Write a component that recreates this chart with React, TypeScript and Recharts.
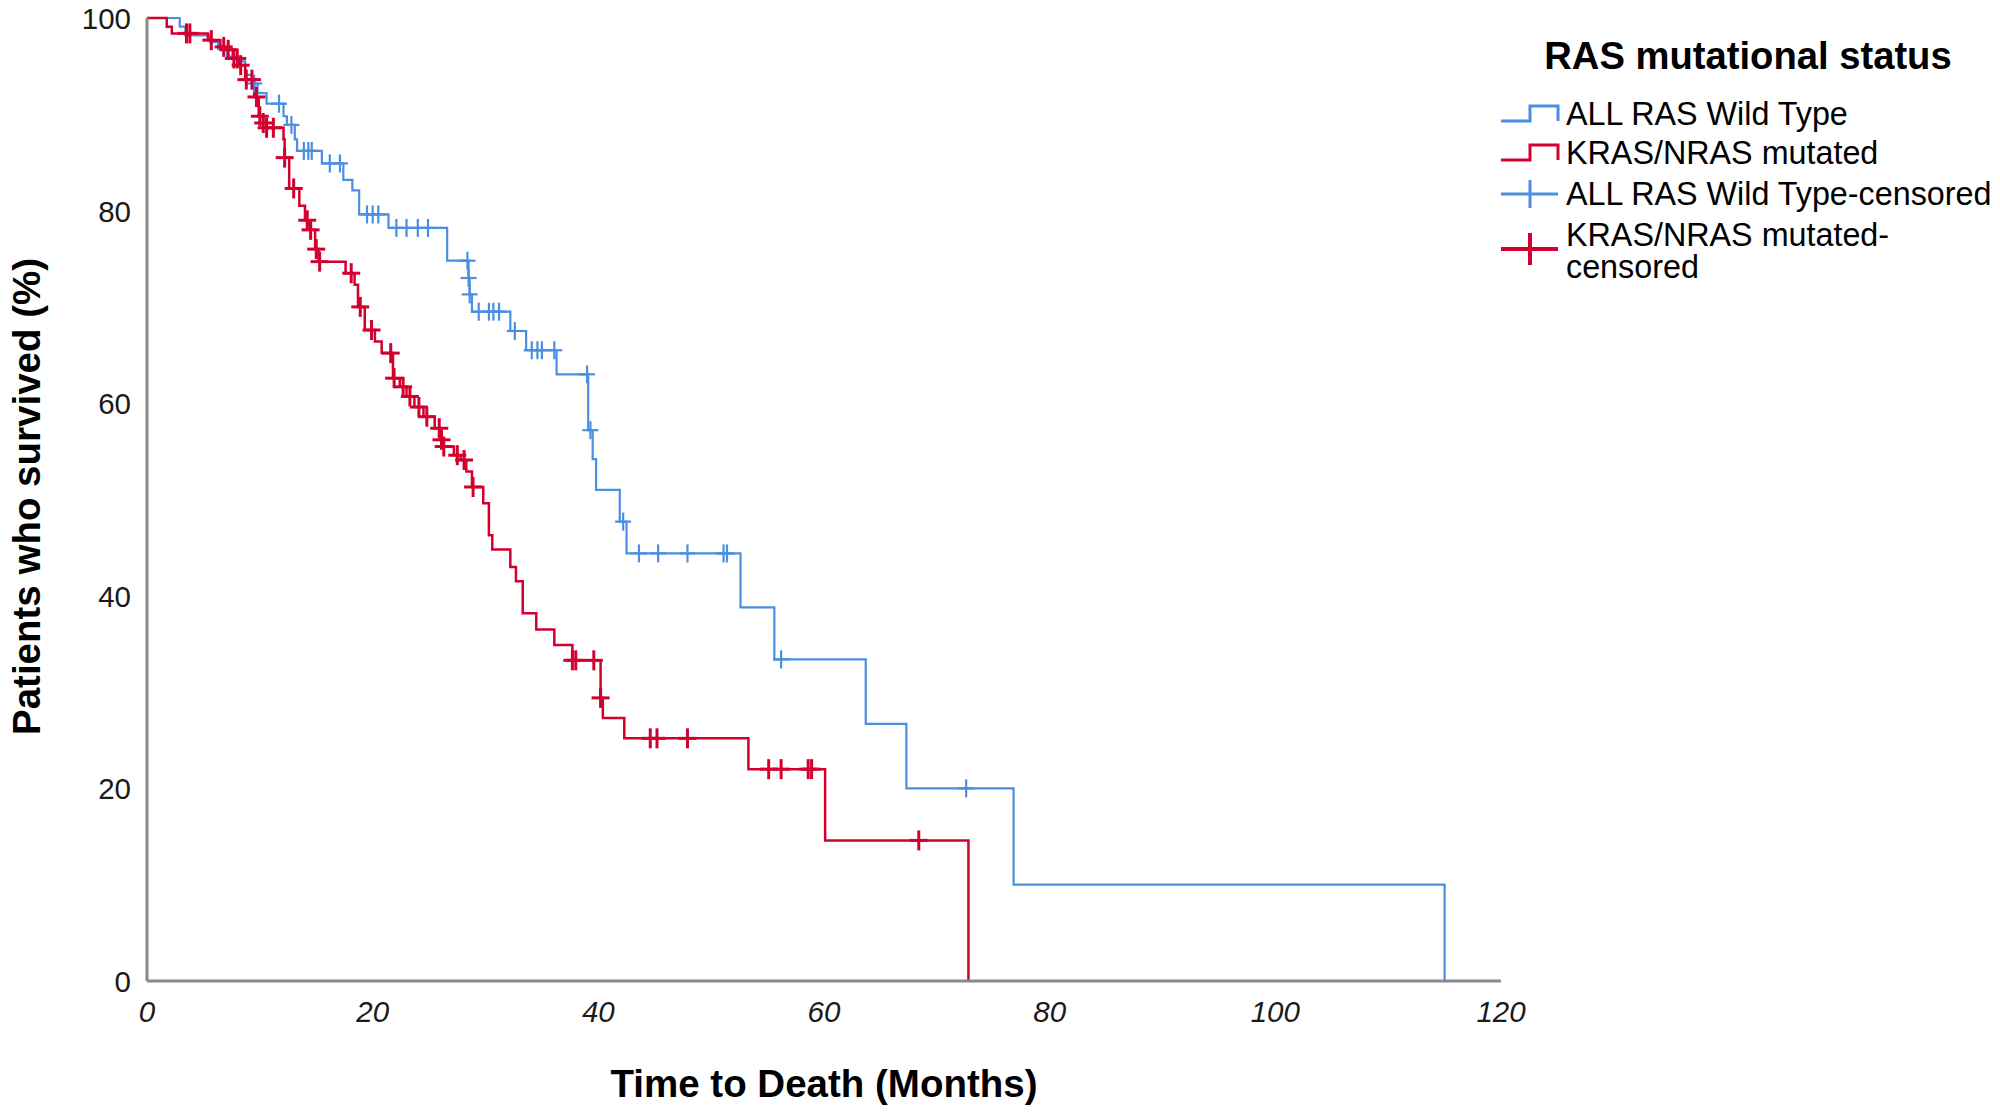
import React from "react";
import { ComposedChart, Line, Scatter, XAxis, YAxis, Label } from "recharts";

// ---- Data ----
const xTicks = [0, 20, 40, 60, 80, 100, 120];
const yTicks = [0, 20, 40, 60, 80, 100];

// ALL RAS Wild Type: step times (months) and survival (%)
const wtTime = [0, 2.9, 3.4, 5.6, 6.3, 7.1, 8.0, 8.7, 9.3, 9.8, 10.6, 12.1, 12.4, 13.1, 13.3, 15.5, 17.4, 18.2, 18.8, 21.4, 26.6, 28.5, 28.6, 28.8, 32.2, 33.6, 36.3, 39.1, 39.5, 39.8, 41.9, 42.5, 52.6, 55.6, 63.7, 67.3, 76.8, 115.0];
const wtSurv = [100, 99.1, 98.2, 97.5, 96.8, 96.0, 95.5, 94.1, 93.2, 92.2, 91.1, 89.8, 88.9, 87.4, 86.2, 84.9, 83.2, 82.1, 79.6, 78.2, 74.8, 73.0, 71.3, 69.5, 67.5, 65.5, 63.0, 57.2, 54.2, 51.0, 47.7, 44.4, 38.8, 33.4, 26.7, 20.0, 10.0, 0];

// ALL RAS Wild Type censored
const wtCensTime = [9.5, 11.7, 12.8, 13.9, 14.3, 14.6, 16.2, 17.1, 19.5, 20.0, 20.5, 22.1, 23.0, 24.0, 24.9, 28.4, 28.5, 28.6, 29.4, 30.3, 30.7, 31.2, 32.6, 34.1, 34.6, 35.0, 36.1, 39.0, 39.3, 42.2, 43.6, 45.3, 47.9, 51.1, 51.4, 56.2, 72.6];
const wtCensSurv = [93.2, 91.1, 88.9, 86.2, 86.2, 86.2, 84.9, 84.9, 79.6, 79.6, 79.6, 78.2, 78.2, 78.2, 78.2, 74.8, 73.0, 71.3, 69.5, 69.5, 69.5, 69.5, 67.5, 65.5, 65.5, 65.5, 65.5, 63.0, 57.2, 47.7, 44.4, 44.4, 44.4, 44.4, 44.4, 33.4, 20.0];

// KRAS/NRAS mutated: step times (months) and survival (%)
const mutTime = [0, 1.75, 2.2, 5.4, 6.5, 7.0, 7.6, 8.2, 8.7, 9.5, 9.9, 10.3, 10.6, 12.1, 12.2, 12.6, 13.5, 14.0, 14.4, 14.9, 15.2, 17.6, 18.4, 18.7, 19.3, 20.2, 20.8, 21.8, 22.4, 23.0, 23.7, 24.5, 25.5, 26.0, 26.2, 27.2, 27.8, 28.3, 28.8, 29.8, 30.3, 30.6, 32.2, 32.7, 33.3, 34.5, 36.1, 37.7, 40.2, 40.4, 42.3, 53.3, 60.1, 72.8];
const mutSurv = [100, 99.1, 98.4, 97.7, 97.0, 96.7, 95.8, 95.1, 93.6, 91.8, 89.8, 89.1, 88.6, 87.4, 85.5, 82.3, 80.5, 79.0, 78.0, 76.0, 74.7, 73.5, 72.3, 70.0, 67.6, 66.4, 65.2, 62.6, 61.7, 60.7, 59.6, 58.6, 57.4, 56.2, 55.5, 54.6, 54.1, 52.9, 51.3, 49.6, 46.3, 44.8, 43.0, 41.5, 38.2, 36.5, 34.9, 33.3, 29.4, 27.3, 25.2, 22.0, 14.6, 0];

// KRAS/NRAS mutated censored
const mutCensTime = [3.5, 3.8, 5.7, 6.8, 7.2, 7.7, 8.0, 8.3, 8.8, 9.3, 9.7, 10.0, 10.3, 10.6, 11.2, 12.2, 13.0, 14.2, 14.5, 15.0, 15.3, 18.1, 18.9, 19.9, 21.6, 21.9, 22.7, 23.3, 24.1, 24.8, 25.9, 26.1, 26.3, 27.5, 28.1, 28.9, 37.7, 38.0, 39.6, 40.2, 44.6, 45.2, 47.9, 55.1, 56.2, 58.6, 58.9, 68.4];
const mutCensSurv = [98.4, 98.4, 97.7, 97.0, 96.7, 95.8, 95.8, 95.1, 93.6, 93.6, 91.8, 89.8, 89.1, 88.6, 88.6, 85.5, 82.3, 79.0, 78.0, 76.0, 74.7, 73.5, 70.0, 67.6, 65.2, 62.6, 61.7, 60.7, 59.6, 58.6, 57.4, 56.2, 55.5, 54.6, 54.1, 51.3, 33.3, 33.3, 33.3, 29.4, 25.2, 25.2, 25.2, 22.0, 22.0, 22.0, 22.0, 14.6];

const legendTitle = "RAS mutational status";
const seriesNames = ["ALL RAS Wild Type", "KRAS/NRAS mutated", "ALL RAS Wild Type-censored", "KRAS/NRAS mutated-censored"];

const BLUE = "#4a8fe0";
const RED = "#d3002f";
const FONT = "'Liberation Sans', Arial, sans-serif";

const toPoints = (ts: number[], ss: number[]) => ts.map((t, i) => ({ t, s: ss[i] }));
const wtLine = toPoints(wtTime, wtSurv);
const mutLine = toPoints(mutTime, mutSurv);
const wtCens = toPoints(wtCensTime, wtCensSurv);
const mutCens = toPoints(mutCensTime, mutCensSurv);

const makeCross = (color: string, hw: number, hh: number, sw: number) => (props: any) => {
  const { cx, cy } = props;
  if (cx == null || cy == null) return <g />;
  return (
    <g>
      <line x1={cx - hw} y1={cy} x2={cx + hw} y2={cy} stroke={color} strokeWidth={sw} />
      <line x1={cx} y1={cy - hh} x2={cx} y2={cy + hh} stroke={color} strokeWidth={sw} />
    </g>
  );
};

const YTick = (props: any) => {
  const { x, y, payload } = props;
  return (
    <text x={x} y={y} dy={11} textAnchor="end" fontSize={29.5} fontFamily={FONT} fill="#1a1a1a">
      {payload.value}
    </text>
  );
};

const XTick = (props: any) => {
  const { x, y, payload } = props;
  return (
    <text x={x} y={y} dy={41} textAnchor="middle" fontSize={29.5} fontStyle="italic" fontFamily={FONT} fill="#1a1a1a">
      {payload.value}
    </text>
  );
};

const Legend = () => {
  const iconL = 1501;
  const iconM = 1530;
  const iconR = 1558;
  const textX = 1566;
  const rows = [114, 153, 194];
  const step = (cy: number, color: string) => (
    <path d={`M${iconL},${cy + 7} H${iconM} V${cy - 8} H${iconR} V${cy + 7}`} fill="none" stroke={color} strokeWidth={3} />
  );
  const plus = (cy: number, color: string, hh: number, sw: number) => (
    <g>
      <line x1={iconL} y1={cy} x2={iconR} y2={cy} stroke={color} strokeWidth={sw} />
      <line x1={iconM} y1={cy - hh} x2={iconM} y2={cy + hh} stroke={color} strokeWidth={sw} />
    </g>
  );
  return (
    <svg width={2000} height={1116} style={{ position: "absolute", left: 0, top: 0, pointerEvents: "none" }}>
      <text x={1748} y={69} textAnchor="middle" fontSize={38.2} fontWeight="bold" fontFamily={FONT} fill="#000">
        {legendTitle}
      </text>
      {step(rows[0], BLUE)}
      <text x={textX} y={rows[0] + 11} fontSize={32.3} fontFamily={FONT} fill="#000">{seriesNames[0]}</text>
      {step(rows[1], RED)}
      <text x={textX} y={rows[1] + 11} fontSize={32.3} fontFamily={FONT} fill="#000">{seriesNames[1]}</text>
      {plus(rows[2], BLUE, 14, 3)}
      <text x={textX} y={rows[2] + 11} fontSize={32.3} fontFamily={FONT} fill="#000">{seriesNames[2]}</text>
      {plus(249, RED, 16, 4)}
      <text x={textX} y={246} fontSize={32.3} fontFamily={FONT} fill="#000">KRAS/NRAS mutated-</text>
      <text x={textX} y={278} fontSize={32.3} fontFamily={FONT} fill="#000">censored</text>
    </svg>
  );
};

export default function App() {
  return (
    <div style={{ position: "absolute", left: 0, top: 0, width: 2000, height: 1116, background: "#fff", fontFamily: FONT }}>
      <ComposedChart width={2000} height={1116} margin={{ top: 18, right: 499, bottom: 0, left: 0 }}>
        <XAxis
          type="number"
          dataKey="t"
          domain={[0, 120]}
          ticks={xTicks}
          allowDuplicatedCategory={false}
          height={135}
          tickSize={0}
          tickMargin={0}
          tick={<XTick />}
          axisLine={{ stroke: "#8a8a8a", strokeWidth: 3 }}
          tickLine={false}
        >
          <Label
            content={(p: any) => {
              const vb = p.viewBox;
              return (
                <text x={vb.x + vb.width / 2} y={vb.y + 116} textAnchor="middle" fontSize={38.5} fontWeight="bold" fontFamily={FONT} fill="#000">
                  Time to Death (Months)
                </text>
              );
            }}
          />
        </XAxis>
        <YAxis
          type="number"
          dataKey="s"
          domain={[0, 100]}
          ticks={yTicks}
          width={147}
          tickSize={0}
          tickMargin={16}
          tick={<YTick />}
          axisLine={{ stroke: "#8a8a8a", strokeWidth: 3 }}
          tickLine={false}
        >
          <Label
            content={(p: any) => {
              const vb = p.viewBox;
              const cx = 26;
              const cy = vb.y + vb.height / 2 - 3;
              return (
                <text x={cx} y={cy} transform={`rotate(-90 ${cx} ${cy})`} textAnchor="middle" dominantBaseline="central" fontSize={38.5} fontWeight="bold" fontFamily={FONT} fill="#000">
                  Patients who survived (%)
                </text>
              );
            }}
          />
        </YAxis>
        <Line data={wtLine} dataKey="s" type="stepAfter" stroke={BLUE} strokeWidth={2.2} dot={false} activeDot={false} isAnimationActive={false} />
        <Line data={mutLine} dataKey="s" type="stepAfter" stroke={RED} strokeWidth={2.5} dot={false} activeDot={false} isAnimationActive={false} />
        <Scatter data={wtCens} dataKey="s" shape={makeCross(BLUE, 8, 9, 2.2)} isAnimationActive={false} />
        <Scatter data={mutCens} dataKey="s" shape={makeCross(RED, 9, 10, 3)} isAnimationActive={false} />
      </ComposedChart>
      <Legend />
    </div>
  );
}
